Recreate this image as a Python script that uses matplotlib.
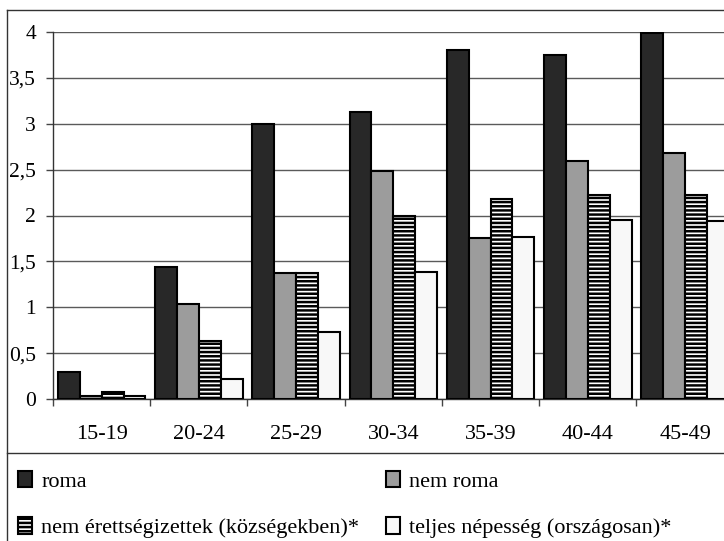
import matplotlib
matplotlib.use("Agg")
import matplotlib.pyplot as plt
import numpy as np
from matplotlib.lines import Line2D
from matplotlib.ticker import FixedLocator, FuncFormatter

categories = ["15-19", "20-24", "25-29", "30-34", "35-39", "40-44", "45-49"]
roma = [0.30, 1.44, 3.00, 3.13, 3.80, 3.75, 3.99]
nem_roma = [0.04, 1.04, 1.37, 2.48, 1.76, 2.59, 2.68]
nem_erett = [0.08, 0.63, 1.37, 1.99, 2.18, 2.22, 2.22]
teljes = [0.04, 0.22, 0.73, 1.39, 1.77, 1.95, 1.94]
series_labels = ["roma", "nem roma", "nem érettségizettek (községekben)*",
                 "teljes népesség (országosan)*"]
yticks = [0, 0.5, 1, 1.5, 2, 2.5, 3, 3.5, 4]

plt.rcParams['font.family'] = ['Liberation Serif', 'DejaVu Serif']
plt.rcParams['hatch.linewidth'] = 1.8
plt.rcParams['hatch.color'] = 'black'

W, H = 724, 541
fig = plt.figure(figsize=(W / 100, H / 100), dpi=100)
ax = fig.add_axes([53 / W, (H - 399.3) / H, 1 - 53 / W, (399.3 - 31.7) / H])

x = np.arange(len(categories))
bw = 0.225
off = 0.05
styles = [
    dict(color="#282828", edgecolor="black"),
    dict(color="#9c9c9c", edgecolor="black"),
    dict(color="white", edgecolor="black", hatch="----"),
    dict(color="#f8f8f8", edgecolor="black"),
]
data = [roma, nem_roma, nem_erett, teljes]
handles = []
for k, (vals, st) in enumerate(zip(data, styles)):
    b = ax.bar(x + off + k * bw, vals, width=bw, align="edge", linewidth=1.5,
               zorder=3, label=series_labels[k], **st)
    handles.append(b)

ax.set_xlim(0, 6.9)
ax.set_ylim(0, 4)
ax.yaxis.set_major_locator(FixedLocator(yticks))
ax.yaxis.set_major_formatter(FuncFormatter(lambda v, p: (f"{v:g}").replace(".", ",")))
ax.grid(axis="y", color="#5a5a5a", linewidth=1.0, zorder=0)
ax.set_axisbelow(True)

ax.set_xticks(np.arange(0, 7))
ax.set_xticklabels([])
ax.set_xticks(x + 0.5, minor=True)
ax.set_xticklabels(categories, minor=True)
ax.tick_params(axis="x", which="major", length=5, width=1, color="#444444", direction="out")
ax.tick_params(axis="x", which="minor", length=0, pad=18.5, labelsize=16)
ax.tick_params(axis="y", length=5, width=1, color="#444444", pad=7.2, labelsize=15.5)

for s in ["top", "right"]:
    ax.spines[s].set_visible(False)
for s in ["left", "bottom"]:
    ax.spines[s].set_color("#333333")
    ax.spines[s].set_linewidth(1.0)

# outer frame lines
def fx(px):
    return px / W
def fy(py):
    return 1 - py / H
fig.add_artist(Line2D([fx(7), fx(7)], [fy(10), fy(541)], color="#333333", lw=1.0))
fig.add_artist(Line2D([fx(7), 1], [fy(10), fy(10)], color="#333333", lw=1.0))
fig.add_artist(Line2D([fx(7), 1], [fy(453), fy(453)], color="#333333", lw=1.0))

order = [0, 2, 1, 3]
fig.legend(handles=[handles[i] for i in order],
           labels=[series_labels[i] for i in order], ncol=2, loc="upper left",
           bbox_to_anchor=(fx(18), fy(471)), frameon=False, fontsize=16,
           handlelength=0.65, handleheight=0.75, handletextpad=0.4,
           columnspacing=1.2, labelspacing=1.15, borderpad=0, borderaxespad=0)

fig.savefig("out.png", dpi=100)
